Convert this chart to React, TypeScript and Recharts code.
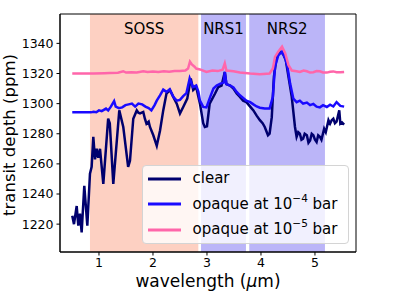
import {LineChart, Line, XAxis, YAxis, ReferenceArea, Legend} from 'recharts';

const FONT = '"DejaVu Sans", Verdana, sans-serif';

// wavelength (um) / transit depth (ppm)
const clearWl = [0.505, 0.537, 0.587, 0.617, 0.648, 0.679, 0.728, 0.784, 0.833, 0.864, 0.895, 0.926, 0.957, 0.988, 1.019, 1.08, 1.17, 1.2, 1.265, 1.376, 1.45, 1.54, 1.574, 1.635, 1.7, 1.73, 1.76, 1.82, 1.85, 1.88, 1.92, 1.944, 2.006, 2.07, 2.13, 2.19, 2.25, 2.315, 2.376, 2.44, 2.5, 2.56, 2.635, 2.7, 2.745, 2.8, 2.87, 2.93, 2.96, 3.0, 3.05, 3.15, 3.21, 3.27, 3.33, 3.36, 3.43, 3.49, 3.55, 3.61, 3.67, 3.73, 3.8, 3.86, 3.92, 3.98, 4.03, 4.07, 4.13, 4.16, 4.2, 4.24, 4.29, 4.35, 4.41, 4.46, 4.5, 4.57, 4.63, 4.66, 4.69, 4.72, 4.75, 4.78, 4.81, 4.85, 4.88, 4.91, 4.94, 4.97, 5.0, 5.03, 5.06, 5.09, 5.12, 5.17, 5.2, 5.25, 5.28, 5.31, 5.34, 5.37, 5.4, 5.45, 5.47, 5.5, 5.54];
const clearDepth = [1225.5, 1220, 1232, 1219, 1227, 1214.5, 1245.5, 1219, 1253.5, 1258, 1278, 1263, 1270, 1264, 1270, 1246.7, 1290, 1287, 1246.7, 1295.5, 1284.5, 1258, 1262, 1290, 1295.5, 1294, 1293.5, 1294.5, 1290, 1286.7, 1288, 1284.5, 1279, 1272, 1282, 1295.5, 1306.7, 1309, 1304.5, 1300, 1293.5, 1297.8, 1303.3, 1316.7, 1309, 1311, 1300, 1287, 1284.5, 1285, 1300, 1306.7, 1311, 1312, 1321, 1313, 1312, 1310, 1306.7, 1304.5, 1302, 1301, 1298, 1295.5, 1292, 1289, 1287, 1284.5, 1279, 1280, 1291, 1318, 1331, 1334.5, 1333, 1329, 1320, 1304.5, 1284.5, 1278, 1281, 1280, 1276, 1276.7, 1280, 1279, 1274, 1275.5, 1280, 1279, 1276, 1274.5, 1279, 1278, 1276, 1283.3, 1281, 1289, 1286.7, 1289, 1290, 1287, 1288, 1295.5, 1286.7, 1287.5, 1286];

const thickWl = [0.505, 0.6, 0.7, 0.8, 0.85, 0.9, 0.95, 1.0, 1.05, 1.13, 1.17, 1.22, 1.28, 1.31, 1.37, 1.43, 1.49, 1.55, 1.61, 1.67, 1.73, 1.8, 1.86, 1.92, 1.97, 2.03, 2.07, 2.13, 2.19, 2.25, 2.31, 2.376, 2.44, 2.5, 2.56, 2.62, 2.68, 2.74, 2.8, 2.84, 2.87, 2.93, 2.99, 3.06, 3.12, 3.18, 3.25, 3.31, 3.33, 3.36, 3.43, 3.49, 3.55, 3.61, 3.67, 3.73, 3.8, 3.86, 3.92, 3.98, 4.07, 4.16, 4.22, 4.26, 4.32, 4.39, 4.45, 4.49, 4.54, 4.6, 4.66, 4.72, 4.78, 4.85, 4.91, 4.97, 5.03, 5.09, 5.15, 5.22, 5.28, 5.34, 5.4, 5.47, 5.54];
const thickDepth = [1294.2, 1294.2, 1294.2, 1294.3, 1294.2, 1294.6, 1294.3, 1295.5, 1295, 1296.7, 1295.5, 1298, 1301.7, 1298, 1297, 1297.5, 1299, 1299.5, 1300, 1298, 1300, 1299.5, 1298, 1297, 1295.5, 1299, 1302, 1305.5, 1309.3, 1307.8, 1309.5, 1304.5, 1302, 1302.5, 1305, 1307, 1316.7, 1311, 1312, 1308, 1302, 1297.8, 1297.5, 1304.5, 1310, 1312, 1313.3, 1314, 1321, 1313, 1312, 1310.7, 1307.8, 1305.5, 1303.8, 1302, 1301, 1299.5, 1298.1, 1297.3, 1296.7, 1296.7, 1304.5, 1324.5, 1332, 1334.5, 1330, 1324.5, 1313.3, 1303.3, 1301, 1302, 1300, 1300.7, 1299, 1299.8, 1298, 1297.5, 1299, 1297.8, 1299.3, 1298.1, 1301, 1298.5, 1298];

const thinWl = [0.505, 0.7, 0.9, 1.1, 1.2, 1.35, 1.45, 1.5, 1.6, 1.7, 1.82, 1.9, 2.0, 2.1, 2.2, 2.3, 2.4, 2.5, 2.6, 2.65, 2.685, 2.72, 2.77, 2.8, 2.87, 2.99, 3.1, 3.2, 3.29, 3.33, 3.36, 3.49, 3.61, 3.8, 3.98, 4.16, 4.22, 4.26, 4.32, 4.39, 4.45, 4.51, 4.57, 4.66, 4.72, 4.79, 4.85, 4.91, 4.97, 5.03, 5.09, 5.15, 5.22, 5.28, 5.34, 5.4, 5.47, 5.54];
const thinDepth = [1320, 1320, 1320, 1320.2, 1320.3, 1320.5, 1321.5, 1320.6, 1320.8, 1320.6, 1321.5, 1321, 1321.3, 1321, 1321.5, 1321.2, 1321.6, 1321.6, 1322, 1323.3, 1327.8, 1326, 1324.5, 1323.3, 1322.7, 1321, 1322, 1321.6, 1322.5, 1326.7, 1322, 1321.5, 1320.7, 1320, 1319.5, 1320, 1323.3, 1331, 1334.5, 1337.8, 1333.3, 1325.5, 1322, 1321.5, 1321, 1322, 1321.5, 1320.6, 1320.8, 1321.6, 1321.5, 1320.7, 1320.6, 1321.2, 1321.4, 1320.9, 1320.8, 1321];

const regionNames = ['SOSS', 'NRS1', 'NRS2'];
const regionStart = [0.833, 2.89, 3.783];
const regionEnd = [2.84, 3.722, 5.185];
const regionColors = ['#fdd0c2', '#bbb5f8', '#bbb5f8'];

const xTicks = [1, 2, 3, 4, 5];
const yTicks = [1220, 1240, 1260, 1280, 1300, 1320, 1340];
const X_DOMAIN: [number, number] = [0.278, 5.76];
const Y_DOMAIN: [number, number] = [1201.5, 1359.5];

const toPoints = (wl: number[], depth: number[]) => wl.map((x, i) => ({x, y: depth[i]}));

const series = [
    {name: 'clear', color: '#00006e', data: toPoints(clearWl, clearDepth)},
    {name: 'opaque at 10^−4 bar', color: '#1a0aff', data: toPoints(thickWl, thickDepth)},
    {name: 'opaque at 10^−5 bar', color: '#ff66aa', data: toPoints(thinWl, thinDepth)},
];

const renderName = (name: string) => {
    const m = name.match(/^(.*)\^(\S+)(.*)$/);
    if (!m) return name;
    return <>{m[1]}<sup style={{fontSize: 10.5, verticalAlign: 'top', lineHeight: '10px', position: 'relative', top: 1}}>{m[2]}</sup>{m[3]}</>;
};

const LegendBox = () => (
    <div style={{
        width: 207, height: 79, boxSizing: 'border-box', background: 'rgba(255,255,255,0.8)',
        border: '1px solid #d4d4d4', borderRadius: 4, paddingTop: 0, fontFamily: FONT, fontSize: 15, color: '#000'
    }}>
        {series.map(s => (
            <div key={s.name} style={{height: 25.5, display: 'flex', alignItems: 'center', paddingLeft: 5}}>
                <svg width={33} height={4} style={{flex: 'none'}}>
                    <line x1={0} y1={2} x2={33} y2={2} stroke={s.color} strokeWidth={3}/>
                </svg>
                <span style={{marginLeft: 11.5, whiteSpace: 'nowrap', lineHeight: '25px'}}>{renderName(s.name)}</span>
            </div>
        ))}
    </div>
);

const YLabel = () => (
    <text x={15} y={135} transform="rotate(-90 15 135)" textAnchor="middle"
          fontSize={16.5} fontFamily={FONT} fill="#000">transit depth (ppm)</text>
);

const XLabel = () => (
    <text x={208} y={286.5} textAnchor="middle" fontSize={17} fontFamily={FONT} fill="#000">
        wavelength (<tspan fontStyle="italic">μ</tspan>m)
    </text>
);

export default function App() {
    return (
        <div style={{position: 'absolute', left: 0, top: 0, width: 396, height: 297, background: '#fff'}}>
            <LineChart width={396} height={297} margin={{top: 14, right: 40, bottom: 0, left: 0}}>
                <XAxis dataKey="x" type="number" domain={X_DOMAIN} ticks={xTicks} allowDataOverflow height={45}
                       tick={{fontSize: 12.5, fill: '#000', fontFamily: FONT}} tickSize={3.5} tickMargin={3}
                       stroke="#000" label={<XLabel/>}/>
                <YAxis dataKey="y" type="number" domain={Y_DOMAIN} ticks={yTicks} allowDataOverflow width={60}
                       tick={{fontSize: 12.5, fill: '#000', fontFamily: FONT}} tickSize={3.5} tickMargin={3}
                       stroke="#000" label={<YLabel/>}/>
                {regionNames.map((r, i) => (
                    <ReferenceArea key={r} x1={regionStart[i]} x2={regionEnd[i]} fill={regionColors[i]} fillOpacity={1}
                                   stroke="none"
                                   label={{value: r, position: 'insideTop', offset: 9, fontSize: 15, fill: '#000', fontFamily: FONT}}/>
                ))}
                {series.map(s => (
                    <Line key={s.name} data={s.data} dataKey="y" name={s.name} type="linear" stroke={s.color}
                          strokeWidth={2.5} dot={false} activeDot={false} isAnimationActive={false}/>
                ))}
                <ReferenceArea x1={X_DOMAIN[0]} x2={X_DOMAIN[1]} y1={Y_DOMAIN[0]} y2={Y_DOMAIN[1]} fill="none"
                               stroke="#000" strokeWidth={1}/>
                <Legend layout="horizontal" verticalAlign="middle" align="center" content={<LegendBox/>}
                        wrapperStyle={{left: 142, top: 165, width: 207, height: 79}}/>
            </LineChart>
        </div>
    );
}
